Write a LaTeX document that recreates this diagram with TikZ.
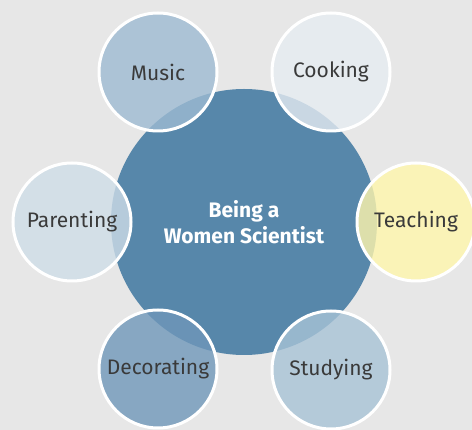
\documentclass[tikz,border=0pt]{standalone}
\usepackage{fontspec}
\setsansfont{Fira Sans}
\renewcommand{\familydefault}{\sfdefault}
\usetikzlibrary{positioning}
\definecolor{bgGray}{HTML}{E7E7E7}
\definecolor{hubBlue}{HTML}{5787AA}
\definecolor{labelGray}{HTML}{3A3A3A}
\definecolor{musicFill}{HTML}{9EBBD2}
\definecolor{cookFill}{HTML}{E6ECF2}
\definecolor{parentFill}{HTML}{CEDDE8}
\definecolor{teachFill}{HTML}{FFF6AC}
\definecolor{decoFill}{HTML}{6F97B9}
\definecolor{studyFill}{HTML}{A8C3D6}
\tikzset{
    hub/.style={circle, fill=hubBlue, minimum size=266pt, inner sep=0pt,
        text=white, align=center, font=\fontsize{21}{26}\selectfont\bfseries},
    spoke/.style={circle, fill=#1, fill opacity=0.8, text opacity=1,
        draw=white, line width=3pt, minimum size=118pt, inner sep=0pt,
        text=labelGray, font=\fontsize{21}{24}\selectfont},
    spoke/.default={white}
}

\begin{document}
\begin{tikzpicture}[x=1pt, y=-1pt]
    \fill[bgGray] (0,0) rectangle (472,430);
    \useasboundingbox (0,0) rectangle (472,430);
    % centre
    \node[hub] (being) at (244,222) {Being a\\Women Scientist};
    % around it
    \node[spoke=musicFill]  (music)  at (158,72)  {Music};
    \node[spoke=cookFill]   (cook)   at (331,72)  {Cooking};
    \node[spoke=parentFill] (parent) at (72,222)  {Parenting};
    \node[spoke=teachFill]  (teach)  at (416,222) {Teaching};
    \node[spoke=decoFill]   (deco)   at (158,369) {Decorating};
    \node[spoke=studyFill]  (study)  at (331,370) {Studying};
\end{tikzpicture}
\end{document}
